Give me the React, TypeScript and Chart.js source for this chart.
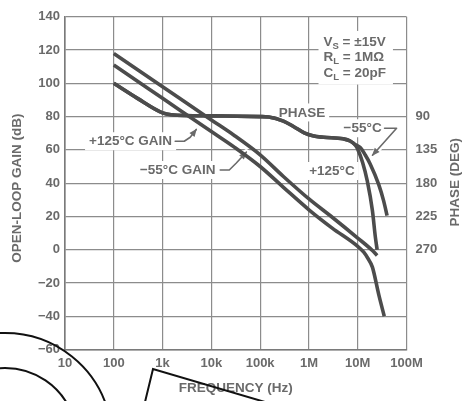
import React, { useEffect, useRef } from "react";
import { Chart, registerables } from "chart.js";

Chart.register(...registerables);

// ---------- data ----------
const frequencyTicks = [10, 100, 1e3, 1e4, 1e5, 1e6, 1e7, 1e8];
const frequencyTickLabels = ["10", "100", "1k", "10k", "100k", "1M", "10M", "100M"];
const phaseTicks = [90, 135, 180, 225, 270];

// -55°C open-loop gain (dB)
const gainM55Freq = [100, 1e3, 1e4, 3e4, 1e5, 3e5, 1e6, 3e6, 1e7, 2e7, 2.5e7];
const gainM55 = [118, 98, 78, 68.5, 57, 44, 30.5, 19.5, 7, -0.5, -3.5];

// +125°C open-loop gain (dB)
const gainP125Freq = [100, 1e3, 1e4, 3e4, 1e5, 3e5, 1e6, 3e6, 1e7, 1.33e7, 1.6e7, 2e7, 2.7e7, 3.5e7];
const gainP125 = [111, 91, 71, 61.5, 50, 37.5, 24, 13, 2, -1.5, -5, -10.5, -27, -40];

// phase (deg) -55°C
const phaseM55Freq = [100, 300, 1e3, 1.5e3, 1e4, 1e5, 1.5e5, 3e5, 5e5, 8e5, 1.2e6, 2e6, 5e6, 7e6, 9e6, 1.14e7, 1.4e7, 1.8e7, 2.7e7, 3.4e7, 4e7];
const phaseM55 = [45, 65, 85, 87.5, 89, 90, 90.5, 96, 104, 112, 116, 118, 120, 123, 128, 132, 141, 154, 182, 204, 224];

// phase (deg) +125°C
const phaseP125Freq = [100, 300, 1e3, 1.5e3, 1e4, 1e5, 1.5e5, 3e5, 5e5, 8e5, 1.2e6, 2e6, 5e6, 7e6, 9e6, 1e7, 1.26e7, 1.57e7, 2e7, 2.3e7, 2.5e7];
const phaseP125 = [45, 65, 85, 87.5, 89, 90, 90.5, 96, 104, 112, 116, 118, 120, 123, 129, 134, 152, 177, 217, 253, 270];

// annotation texts and anchors (frequency, gain dB)
const labelTexts = ["+125°C GAIN", "−55°C GAIN", "PHASE", "−55°C", "+125°C"];
const labelAnchors = [
  [221, 65.2],
  [2040, 47.9],
  [7.18e5, 82.5],
  [1.26e7, 73],
  [2.96e6, 47.3],
];
const arrowPaths = [
  [[1815, 65.2], [2780, 65.2], [3690, 67.6], [4900, 72.3]],
  [[15200, 47.9], [23300, 47.9], [32500, 52.1], [52000, 58.6]],
  [[3.55e7, 73], [6.26e7, 73], [2.01e7, 56.8]],
];
const conditionMain = ["V", "R", "C"];
const conditionSub = ["S", "L", "L"];
const conditionRest = [" = ±15V", " = 1MΩ", " = 20pF"];
const conditionAnchor = [1.99e6, 124.9];
const conditionGainStep = 9.5;

// ---------- styles ----------
const INK = "#4c4c4c";
const TEXT = "#6a6a6a";
const GRID = "#8c8c8c";
const FAMILY = '"Liberation Sans", Arial, Helvetica, sans-serif';

const toPts = (fs: number[], vs: number[]) => fs.map((f, i) => ({ x: f, y: vs[i] }));

const drawArrow = (ctx: CanvasRenderingContext2D, pts: number[][]) => {
  ctx.beginPath();
  pts.forEach((p, i) => (i ? ctx.lineTo(p[0], p[1]) : ctx.moveTo(p[0], p[1])));
  ctx.stroke();
};

const annotationPlugin = {
  id: "annotations",
  beforeDatasetsDraw(chart: any) {
    const { ctx, scales } = chart;
    const px = (f: number) => scales.x.getPixelForValue(f);
    const py = (g: number) => scales.y.getPixelForValue(g);
    ctx.save();
    ctx.font = `bold 13.5px ${FAMILY}`;
    ctx.textBaseline = "middle";
    ctx.textAlign = "center";
    // label backgrounds + text
    labelTexts.forEach((t, i) => {
      const x = px(labelAnchors[i][0]);
      const y = py(labelAnchors[i][1]);
      const w = ctx.measureText(t).width;
      ctx.fillStyle = "#ffffff";
      ctx.fillRect(x - w / 2 - 4, y - 9, w + 8, 18);
      ctx.fillStyle = TEXT;
      ctx.fillText(t, x, y + 0.5);
    });
    // arrows
    arrowPaths.forEach((path) => {
      const pts = path.map((p) => [px(p[0]), py(p[1])]);
      ctx.lineCap = "round";
      ctx.lineJoin = "round";
      ctx.strokeStyle = "#ffffff";
      ctx.lineWidth = 6;
      drawArrow(ctx, pts);
      ctx.strokeStyle = TEXT;
      ctx.lineWidth = 1.6;
      drawArrow(ctx, pts);
      const a = pts[pts.length - 2];
      const b = pts[pts.length - 1];
      const ang = Math.atan2(b[1] - a[1], b[0] - a[0]);
      const L = 7, H = 3.2;
      ctx.fillStyle = TEXT;
      ctx.beginPath();
      ctx.moveTo(b[0] + Math.cos(ang) * 1, b[1] + Math.sin(ang) * 1);
      ctx.lineTo(b[0] - Math.cos(ang) * L - Math.sin(ang) * H, b[1] - Math.sin(ang) * L + Math.cos(ang) * H);
      ctx.lineTo(b[0] - Math.cos(ang) * L + Math.sin(ang) * H, b[1] - Math.sin(ang) * L - Math.cos(ang) * H);
      ctx.closePath();
      ctx.fill();
    });
    // conditions block
    const cx = px(conditionAnchor[0]);
    const lineYs = conditionMain.map((_, i) => py(conditionAnchor[1] - i * conditionGainStep));
    const widths = conditionMain.map((m, i) => {
      ctx.font = `bold 13.5px ${FAMILY}`;
      const a = ctx.measureText(m).width;
      const c = ctx.measureText(conditionRest[i]).width;
      ctx.font = `bold 9.5px ${FAMILY}`;
      const b = ctx.measureText(conditionSub[i]).width;
      return a + b + c;
    });
    const maxW = Math.max(...widths);
    ctx.fillStyle = "#ffffff";
    ctx.fillRect(cx - 5, lineYs[0] - 11, maxW + 12, lineYs[2] - lineYs[0] + 22);
    ctx.textAlign = "left";
    conditionMain.forEach((m, i) => {
      let x = cx;
      const y = lineYs[i];
      ctx.fillStyle = TEXT;
      ctx.font = `bold 13.5px ${FAMILY}`;
      ctx.fillText(m, x, y);
      x += ctx.measureText(m).width;
      ctx.font = `bold 9.5px ${FAMILY}`;
      ctx.fillText(conditionSub[i], x, y + 4);
      x += ctx.measureText(conditionSub[i]).width;
      ctx.font = `bold 13.5px ${FAMILY}`;
      ctx.fillText(conditionRest[i], x, y);
    });
    ctx.restore();
  },
  afterDraw(chart: any) {
    const { ctx, chartArea } = chart;
    ctx.save();
    ctx.fillStyle = TEXT;
    ctx.font = `bold 13.5px ${FAMILY}`;
    ctx.textAlign = "center";
    ctx.textBaseline = "middle";
    // left title
    ctx.save();
    ctx.translate(chartArea.left - 48, (chartArea.top + chartArea.bottom) / 2 + 5);
    ctx.rotate(-Math.PI / 2);
    ctx.fillText("OPEN-LOOP GAIN (dB)", 0, 0);
    ctx.restore();
    // right title
    ctx.save();
    ctx.translate(chartArea.right + 48.5, (chartArea.top + chartArea.bottom) / 2 - 1);
    ctx.rotate(-Math.PI / 2);
    ctx.fillText("PHASE (DEG)", 0, 0);
    ctx.restore();
    // bottom title
    ctx.fillText("FREQUENCY (Hz)", (chartArea.left + chartArea.right) / 2, chartArea.bottom + 38.5);
    ctx.restore();

    // scan overlay strokes (black marks present on the source page)
    ctx.save();
    ctx.strokeStyle = "#111111";
    ctx.lineWidth = 2;
    ctx.beginPath();
    ctx.arc(5, 440, 107, Math.PI * 1.0, Math.PI * 1.93, false);
    ctx.stroke();
    ctx.beginPath();
    ctx.arc(5, 440, 72, Math.PI * 1.0, Math.PI * 1.88, false);
    ctx.stroke();
    ctx.beginPath();
    ctx.moveTo(145, 402);
    ctx.lineTo(153, 369);
    ctx.lineTo(265, 402);
    ctx.stroke();
    ctx.restore();
  },
};

export default function App() {
  const ref = useRef<HTMLCanvasElement | null>(null);
  useEffect(() => {
    if (!ref.current) return;
    const lineDs = (label: string, data: any[], axis: string) => ({
      label,
      data,
      yAxisID: axis,
      borderColor: INK,
      borderWidth: 3.6,
      pointRadius: 0,
      fill: false,
      cubicInterpolationMode: "monotone" as const,
      borderCapStyle: "butt" as const,
    });
    const chart = new Chart(ref.current, {
      type: "line",
      data: {
        datasets: [
          lineDs("-55°C gain", toPts(gainM55Freq, gainM55), "y"),
          lineDs("+125°C gain", toPts(gainP125Freq, gainP125), "y"),
          lineDs("-55°C phase", toPts(phaseM55Freq, phaseM55), "phase"),
          lineDs("+125°C phase", toPts(phaseP125Freq, phaseP125), "phase"),
        ],
      },
      options: {
        animation: false,
        responsive: false,
        layout: { padding: { top: 14.7, left: 0, right: 0, bottom: 0 } },
        plugins: { legend: { display: false }, tooltip: { enabled: false } },
        scales: {
          x: {
            type: "logarithmic",
            min: 10,
            max: 1e8,
            position: "bottom",
            afterBuildTicks: (s: any) => {
              s.ticks = frequencyTicks.map((v) => ({ value: v }));
            },
            afterFit: (s: any) => {
              s.height = 51.5;
            },
            ticks: {
              autoSkip: false,
              maxRotation: 0,
              padding: 6,
              color: TEXT,
              font: { family: FAMILY, size: 13, weight: "bold" },
              callback: (_v: any, i: number) => frequencyTickLabels[i],
            },
            grid: { color: GRID, lineWidth: 1.2, drawTicks: false },
            border: { color: "#7a7a7a", width: 1.6 },
          },
          y: {
            type: "linear",
            position: "left",
            min: -60,
            max: 140,
            afterFit: (s: any) => {
              s.width = 65;
            },
            ticks: {
              stepSize: 20,
              padding: 5,
              color: TEXT,
              font: { family: FAMILY, size: 13, weight: "bold" },
              callback: (v: any) => (v < 0 ? "−" + Math.abs(v) : String(v)),
            },
            grid: { color: GRID, lineWidth: 1.2, drawTicks: false },
            border: { color: "#7a7a7a", width: 1.6 },
          },
          phase: {
            type: "linear",
            position: "right",
            reverse: true,
            min: -45,
            max: 405,
            afterBuildTicks: (s: any) => {
              s.ticks = phaseTicks.map((v) => ({ value: v }));
            },
            afterFit: (s: any) => {
              s.width = 55.5;
            },
            ticks: {
              padding: 9,
              color: TEXT,
              font: { family: FAMILY, size: 13, weight: "bold" },
            },
            grid: { display: false, drawTicks: false },
            border: { display: false },
          },
        },
      },
      plugins: [annotationPlugin],
    });
    return () => chart.destroy();
  }, []);
  return (
    <div style={{ position: "absolute", left: 0, top: 0, width: 462, height: 401, background: "#fff" }}>
      <canvas ref={ref} width={462} height={401} style={{ display: "block" }} />
    </div>
  );
}
